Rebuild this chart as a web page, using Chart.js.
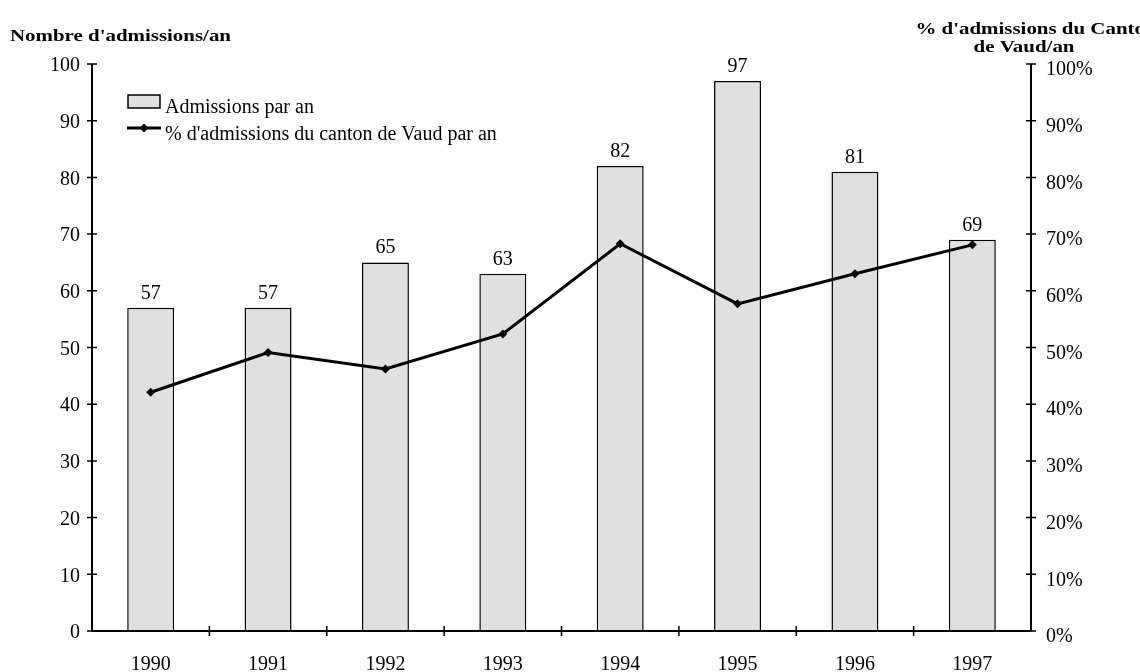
<!DOCTYPE html>
<html>
<head>
<meta charset="utf-8">
<script src="https://cdn.jsdelivr.net/npm/chart.js@4/dist/chart.umd.min.js"></script>
<style>
  html, body { margin: 0; padding: 0; background: #ffffff; }
  #wrap { width: 1140px; height: 672px; position: relative; }
</style>
</head>
<body>
<div id="wrap"><canvas id="c" width="1140" height="672"></canvas></div>
<script>
// ---- Data ----
const years = ['1990', '1991', '1992', '1993', '1994', '1995', '1996', '1997'];
const admissions = [57, 57, 65, 63, 82, 97, 81, 69];
const pctVaud = [42.1, 49.1, 46.2, 52.4, 68.3, 57.7, 63.0, 68.1];
const leftTicks = [0, 10, 20, 30, 40, 50, 60, 70, 80, 90, 100];
const rightTicks = [0, 10, 20, 30, 40, 50, 60, 70, 80, 90, 100];
const barLabel = 'Admissions par an';
const lineLabel = "% d'admissions du canton de Vaud par an";
const leftTitle = "Nombre d'admissions/an";
const rightTitle = ["% d'admissions du Canton", 'de Vaud/an'];

const FONT = "'Liberation Serif', 'Times New Roman', serif";
const GREY = '#e0e0e0';

function stretchedText(ctx, text, x, y, sx, align) {
  ctx.save();
  ctx.translate(x, y);
  ctx.scale(sx, 1);
  ctx.textAlign = align;
  ctx.fillText(text, 0, 0);
  ctx.restore();
}

const decorPlugin = {
  id: 'decor',
  afterDraw(chart) {
    const ctx = chart.ctx;
    const xs = chart.scales.x, ys = chart.scales.y, y1 = chart.scales.y1;
    const area = chart.chartArea;
    ctx.save();
    ctx.strokeStyle = '#000';
    ctx.lineWidth = 2;
    // axis lines
    ctx.beginPath();
    ctx.moveTo(area.left, area.top); ctx.lineTo(area.left, area.bottom);
    ctx.moveTo(area.right, area.top); ctx.lineTo(area.right, area.bottom);
    ctx.moveTo(area.left, area.bottom); ctx.lineTo(area.right, area.bottom);
    ctx.stroke();
    // y ticks crossing
    ctx.lineWidth = 1.5;
    ctx.beginPath();
    leftTicks.forEach(v => {
      const py = ys.getPixelForValue(v);
      ctx.moveTo(area.left - 5, py); ctx.lineTo(area.left + 5, py);
    });
    rightTicks.forEach(v => {
      const py = y1.getPixelForValue(v);
      ctx.moveTo(area.right - 5, py); ctx.lineTo(area.right + 5, py);
    });
    // x ticks at category boundaries
    for (let i = 1; i < years.length; i++) {
      const px = (xs.getPixelForValue(i - 1) + xs.getPixelForValue(i)) / 2;
      ctx.moveTo(px, area.bottom - 5); ctx.lineTo(px, area.bottom + 5);
    }
    ctx.stroke();

    // value labels above bars
    ctx.fillStyle = '#000';
    ctx.font = '20px ' + FONT;
    ctx.textAlign = 'center';
    ctx.textBaseline = 'alphabetic';
    const meta = chart.getDatasetMeta(1);
    meta.data.forEach((bar, i) => {
      ctx.fillText(String(admissions[i]), bar.x, bar.y - 9);
    });

    // legend
    ctx.lineWidth = 1.5;
    ctx.fillStyle = GREY;
    ctx.fillRect(128, 95, 32, 13);
    ctx.strokeRect(128, 95, 32, 13);
    ctx.beginPath();
    ctx.lineWidth = 3;
    ctx.moveTo(127, 128); ctx.lineTo(161, 128);
    ctx.stroke();
    ctx.fillStyle = '#000';
    ctx.beginPath();
    ctx.moveTo(144, 123.5); ctx.lineTo(148.5, 128); ctx.lineTo(144, 132.5); ctx.lineTo(139.5, 128);
    ctx.closePath(); ctx.fill();
    ctx.textAlign = 'left';
    ctx.font = '20px ' + FONT;
    ctx.fillText(barLabel, 165, 113);
    ctx.fillText(lineLabel, 165, 140);

    // titles
    ctx.font = 'bold 17px ' + FONT;
    stretchedText(ctx, leftTitle, 10, 41, 1.23, 'left');
    stretchedText(ctx, rightTitle[0], 1036, 34, 1.23, 'center');
    stretchedText(ctx, rightTitle[1], 1024, 52, 1.23, 'center');
    ctx.restore();
  }
};

new Chart(document.getElementById('c'), {
  data: {
    labels: years,
    datasets: [
      {
        type: 'line',
        label: lineLabel,
        data: pctVaud,
        yAxisID: 'y1',
        borderColor: '#000',
        backgroundColor: '#000',
        borderWidth: 3,
        pointStyle: 'rectRot',
        pointRadius: 4.5,
        pointBorderWidth: 0,
        tension: 0,
        order: 0
      },
      {
        type: 'bar',
        label: barLabel,
        data: admissions,
        yAxisID: 'y',
        backgroundColor: GREY,
        borderColor: '#000',
        borderWidth: 1.5,
        barPercentage: 0.4,
        categoryPercentage: 1.0,
        order: 1
      }
    ]
  },
  options: {
    responsive: false,
    animation: false,
    devicePixelRatio: 1,
    layout: { padding: { top: 64, left: 0, right: 0, bottom: 0 } },
    plugins: {
      legend: { display: false },
      tooltip: { enabled: false },
      decor: {}
    },
    scales: {
      x: {
        type: 'category',
        offset: true,
        grid: { display: false, drawTicks: false },
        border: { display: false },
        ticks: { color: '#000', font: { family: FONT, size: 20 }, padding: 22, maxRotation: 0, autoSkip: false },
        afterFit(s) { s.height = 41; }
      },
      y: {
        position: 'left',
        min: 0, max: 100,
        grid: { display: false, drawTicks: false },
        border: { display: false },
        afterBuildTicks(s) { s.ticks = leftTicks.map(v => ({ value: v })); },
        ticks: { color: '#000', font: { family: FONT, size: 20 }, padding: 12, labelOffset: 2 },
        afterFit(s) { s.width = 92; }
      },
      y1: {
        position: 'right',
        min: 0, max: 100,
        grid: { display: false, drawTicks: false },
        border: { display: false },
        afterBuildTicks(s) { s.ticks = rightTicks.map(v => ({ value: v })); },
        ticks: { color: '#000', font: { family: FONT, size: 20 }, padding: 15, labelOffset: 6, callback: v => v + '%' },
        afterFit(s) { s.width = 109; }
      }
    }
  },
  plugins: [decorPlugin]
});
</script>
</body>
</html>
